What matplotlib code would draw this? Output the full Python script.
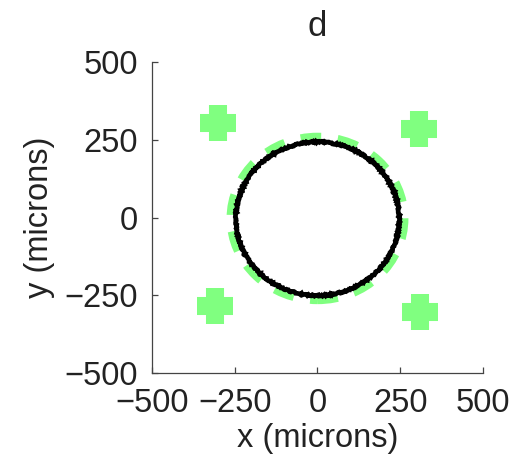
import matplotlib
matplotlib.use("Agg")
import matplotlib.pyplot as plt
from matplotlib.patches import Circle

plt.rcParams["font.family"] = ["Liberation Sans", "DejaVu Sans"]

# trap positions (microns)
trap_x = [-302, 307, -309, 310]
trap_y = [305, 285, -285, -303]

# target ring and recorded track
ring_center = (0, -3)
ring_radius = 260
track_center = (0, -4)
track_radius = 247

ticks = [-500, -250, 0, 250, 500]
tick_labels = ["\u2212500", "\u2212250", "0", "250", "500"]

fig = plt.figure(figsize=(5.14, 4.58), dpi=100)
ax = fig.add_axes([0.2957, 0.1856, 0.644, 0.679])

green = "#80ff80"
ink = "#222222"

ax.plot(trap_x, trap_y, linestyle="none", marker="+", markersize=26,
        markeredgewidth=13, color=green, zorder=2)

ring = Circle(ring_center, ring_radius, fill=False, edgecolor=green,
              linewidth=7.0, linestyle=(0, (2.1, 1.7)), zorder=2)
ax.add_patch(ring)

track = Circle(track_center, track_radius, fill=False, edgecolor="black",
               linewidth=3.4, zorder=3)
track.set_sketch_params(scale=0.7, length=2.0, randomness=3)
ax.add_patch(track)

ax.set_xlim(-500, 500)
ax.set_ylim(-500, 500)
ax.set_xticks(ticks)
ax.set_xticklabels(tick_labels)
ax.set_yticks(ticks)
ax.set_yticklabels(tick_labels)

for side in ["top", "right"]:
    ax.spines[side].set_visible(False)
for side in ["left", "bottom"]:
    ax.spines[side].set_color("#444444")
    ax.spines[side].set_linewidth(0.9)

ax.tick_params(direction="in", length=4, width=0.9, color="#444444",
               labelsize=23.5, labelcolor=ink)
ax.tick_params(axis="x", pad=11)
ax.tick_params(axis="y", pad=10)

ax.set_xlabel("x (microns)", fontsize=23.5, color=ink, labelpad=3)
ax.set_ylabel("y (microns)", fontsize=23.5, color=ink, labelpad=7)
ax.set_title("d", fontsize=25, color=ink, pad=19)

fig.savefig("out.png", dpi=100)
